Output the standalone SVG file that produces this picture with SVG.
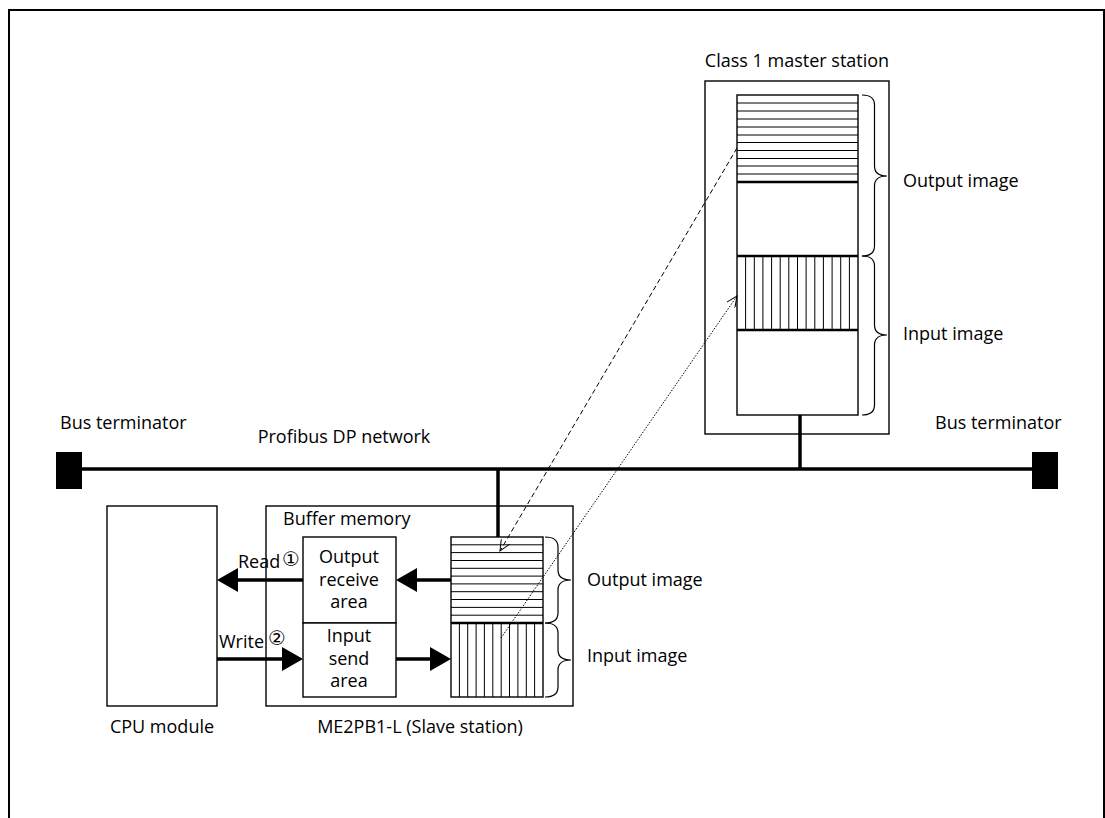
<svg xmlns="http://www.w3.org/2000/svg" width="1105" height="818" viewBox="0 0 1105 818">
<style>
  text { font-family: "Open Sans", "Liberation Sans", sans-serif; font-size: 18px; fill: #000; }
  .mid { text-anchor: middle; }
  .circ { font-family: "DejaVu Sans", "Noto Sans", sans-serif; font-size: 20px; }
  .box { fill: #fff; stroke: #000; stroke-width: 1.4; }
  .hatch { fill: none; stroke: #000; stroke-width: 1; }
  .div { fill: none; stroke: #000; stroke-width: 2.5; }
  .brace { fill: none; stroke: #000; stroke-width: 1.2; }
  .thick { fill: none; stroke: #000; stroke-width: 3.5; }
  .dash { fill: none; stroke: #000; stroke-width: 1; stroke-dasharray: 5 3; }
  .dot { fill: none; stroke: #000; stroke-width: 1; stroke-dasharray: 1.5 1.5; }
  .term { fill: #000; }
</style>
<defs>
  <marker id="head" markerUnits="userSpaceOnUse" markerWidth="21" markerHeight="24" viewBox="0 0 21 24" refX="0" refY="12" orient="auto">
    <path d="M0,0 L21,12 L0,24 Z" fill="#000"/>
  </marker>
  <marker id="open" markerUnits="userSpaceOnUse" markerWidth="12" markerHeight="10" viewBox="0 0 12 10" refX="11" refY="5" orient="auto">
    <path d="M0,0 L11,5 L0,10" fill="none" stroke="#000" stroke-width="1" stroke-dasharray="none"/>
  </marker>
</defs>

<g id="frame">
  <path d="M9,818 V10 H1104 V818" fill="none" stroke="#000" stroke-width="2"/>
</g>

<g id="master-station">
  <text class="mid" x="797" y="67">Class 1 master station</text>
  <rect class="box" x="705" y="81" width="184" height="353"/>
  <rect class="box" x="737" y="95" width="121" height="320"/>
  <path class="hatch" d="M737,103H858M737,111H858M737,119H858M737,127H858M737,135H858M737,142.5H858M737,150.5H858M737,158.5H858M737,166H858M737,174H858"/>
  <path class="hatch" d="M745.6,256V330M754.3,256V330M762.9,256V330M771.6,256V330M780.2,256V330M788.8,256V330M797.5,256V330M806.1,256V330M814.8,256V330M823.4,256V330M832.1,256V330M840.7,256V330M849.4,256V330"/>
  <path class="div" d="M737,182H858M737,256H858M737,330H858"/>
  <path class="brace" d="M862,95 Q874.5,95 874.5,105 L874.5,166 Q874.5,176 887,176 Q874.5,176 874.5,186 L874.5,246 Q874.5,256 862,256"/>
  <path class="brace" d="M862,256 Q874.5,256 874.5,266 L874.5,325 Q874.5,335 887,335 Q874.5,335 874.5,345 L874.5,405 Q874.5,415 862,415"/>
  <text x="903" y="187">Output image</text>
  <text x="903" y="340">Input image</text>
</g>

<g id="bus">
  <text class="mid" x="344" y="443">Profibus DP network</text>
  <path class="thick" d="M81,469 H1033"/>
</g>

<g id="bus-terminator-left">
  <text x="60" y="429">Bus terminator</text>
  <rect class="term" x="56" y="452" width="26" height="37"/>
</g>

<g id="bus-terminator-right">
  <text x="935" y="429">Bus terminator</text>
  <rect class="term" x="1032" y="452" width="26" height="37"/>
</g>

<g id="cpu-module">
  <rect class="box" x="107" y="506" width="110" height="200"/>
  <text class="mid" x="162" y="733">CPU module</text>
</g>

<g id="slave-station">
  <rect class="box" x="266" y="506" width="307" height="200"/>
  <text x="283" y="525">Buffer memory</text>
  <text class="mid" x="420" y="733">ME2PB1-L (Slave station)</text>
</g>

<g id="output-receive-area">
  <rect class="box" x="303" y="537" width="93" height="86"/>
  <text class="mid" x="349" y="563">Output</text>
  <text class="mid" x="349" y="586">receive</text>
  <text class="mid" x="349" y="608">area</text>
</g>

<g id="input-send-area">
  <rect class="box" x="303" y="623" width="93" height="74"/>
  <text class="mid" x="349" y="642">Input</text>
  <text class="mid" x="349" y="665">send</text>
  <text class="mid" x="349" y="687">area</text>
</g>

<g id="slave-image">
  <rect class="box" x="451" y="537" width="92" height="160"/>
  <path class="hatch" d="M451,544.8H543M451,552.6H543M451,560.5H543M451,568.3H543M451,576.1H543M451,583.9H543M451,591.7H543M451,599.5H543M451,607.4H543M451,615.2H543"/>
  <path class="hatch" d="M459.4,623V697M467.7,623V697M476.1,623V697M484.4,623V697M492.8,623V697M501.2,623V697M509.5,623V697M517.9,623V697M526.3,623V697M534.6,623V697"/>
  <path class="div" d="M451,623H543"/>
  <path class="brace" d="M545,537 Q558,537 558,547 L558,570 Q558,580 571,580 Q558,580 558,590 L558,613 Q558,623 545,623"/>
  <path class="brace" d="M545,623 Q558,623 558,633 L558,650 Q558,660 571,660 Q558,660 558,670 L558,687 Q558,697 545,697"/>
  <text x="587" y="586">Output image</text>
  <text x="587" y="662">Input image</text>
</g>

<g id="connectors">
  <path class="thick" d="M800,415 V469"/>
  <path class="thick" d="M498,469 V537"/>
  <path class="thick" d="M303,580 H238" marker-end="url(#head)"/>
  <path class="thick" d="M451,580 H417" marker-end="url(#head)"/>
  <path class="thick" d="M217,659 H282" marker-end="url(#head)"/>
  <path class="thick" d="M396,659 H430" marker-end="url(#head)"/>
  <path class="dash" d="M737,148 L500,551" marker-end="url(#open)"/>
  <path class="dot" d="M501,638 L737,296" marker-end="url(#open)"/>
  <text x="238" y="568">Read</text>
  <text class="circ" x="282" y="566">①</text>
  <text x="219" y="648">Write</text>
  <text class="circ" x="268" y="645">②</text>
</g>
</svg>
